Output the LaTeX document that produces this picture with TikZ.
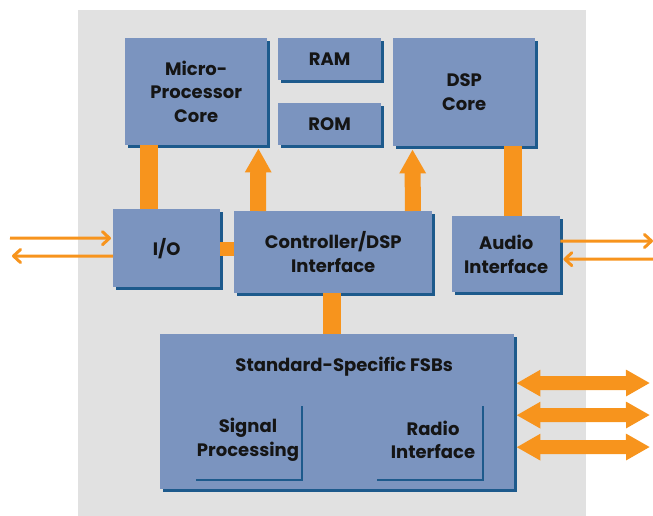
\documentclass[tikz,border=0pt]{standalone}
\usepackage{fontspec}
\setmainfont{Poppins}
\usetikzlibrary{arrows.meta,shadows}
\definecolor{bgrey}{HTML}{E1E1E1}
\definecolor{bfill}{HTML}{7B94BF}
\definecolor{bshadow}{HTML}{1D5A8C}
\definecolor{orng}{HTML}{F7941D}
\definecolor{txt}{HTML}{151515}
\begin{document}
\begin{tikzpicture}[x=1pt,y=-1pt,
  lbl/.style={align=center,inner sep=0pt,text=txt,font=\bfseries\fontsize{18}{23.5}\selectfont},
  block/.style={lbl,fill=bfill,anchor=north west,
    drop shadow={shadow xshift=2.5pt,shadow yshift=-2.5pt,fill=bshadow,opacity=1}},
  conn/.style={fill=orng},
  bigarrow/.style={draw=orng,line width=16pt,-{Triangle[length=24pt,width=25pt]}},
  dblarrow/.style={draw=orng,line width=14pt,{Triangle[length=24pt,width=25pt]}-{Triangle[length=24pt,width=25pt]}},
  thinarrow/.style={draw=orng,line width=3pt,-{Straight Barb[length=7pt,width=13pt,round]}},
  corner/.style={draw=bshadow,line width=2pt}]
\useasboundingbox (0,0) rectangle (653,516);
\fill[bgrey] (78,10) rectangle (586,516);

% blocks
\node[block,minimum width=142pt,minimum height=107pt] (mpc) at (125,38) {Micro-\\Processor\\Core};
\node[block,minimum width=103pt,minimum height=42pt] (ram) at (278,38) {RAM};
\node[block,minimum width=103pt,minimum height=42pt] (rom) at (278,103) {ROM};
\node[block,minimum width=142pt,minimum height=108pt] (dsp) at (393,38) {DSP\\Core};
\node[block,minimum width=107pt,minimum height=78pt] (io) at (113,209) {I/O};
\node[block,minimum width=198pt,minimum height=82pt] (ctrl) at (234,211) {Controller/DSP\\Interface};
\node[block,minimum width=108pt,minimum height=76pt] (audio) at (452,216) {Audio\\Interface};
\node[block,minimum width=354pt,minimum height=155pt] (fsb) at (160,334) {};

% FSB contents
\node[lbl] (fsbt) at ([xshift=7pt,yshift=-33pt]fsb.north) {Standard-Specific FSBs};
\node[lbl] (sp) at (248,440) {Signal\\Processing};
\node[lbl] (ri) at (433,440) {Radio\\Interface};
\draw[corner] (196,480) -- (302,480) -- (302,406);
\draw[corner] (377,480) -- (483,480) -- (483,406);

% connectors
\fill[conn] ([xshift=15pt]mpc.south west) rectangle ([xshift=45pt]io.north west);
\draw[bigarrow] ([xshift=24pt]ctrl.north west) -- ([xshift=-9pt,yshift=-3pt]mpc.south east);
\draw[bigarrow] ([xshift=-19.5pt]ctrl.north east) -- ([xshift=19.5pt,yshift=-3pt]dsp.south west);
\fill[conn] ([xshift=111pt]dsp.south west) rectangle ([xshift=70pt]audio.north west);
\fill[conn] ([yshift=6pt]io.east) rectangle ([yshift=-4pt]ctrl.west);
\fill[conn] ([xshift=89pt]ctrl.south west) rectangle ([xshift=181pt]fsb.north west);

% external arrows
\coordinate (ioin) at (10,238);
\coordinate (ioout) at (12,256);
\coordinate (aout) at (653,241);
\coordinate (ain) at (653,259);
\draw[thinarrow] (ioin) -- ([xshift=-2pt,yshift=10pt]io.west);
\draw[thinarrow] ([yshift=-8pt]io.west) -- (ioout);
\draw[thinarrow] ([yshift=13pt]audio.east) -- (aout);
\draw[thinarrow] (ain) -- ([xshift=3pt,yshift=-5pt]audio.east);

\coordinate (d1) at (650,383);
\coordinate (d2) at (650,415);
\coordinate (d3) at (650,447);
\draw[dblarrow] ([xshift=2pt,yshift=28.5pt]fsb.east) -- (d1);
\draw[dblarrow] ([xshift=2pt,yshift=-3.5pt]fsb.east) -- (d2);
\draw[dblarrow] ([xshift=2pt,yshift=-35.5pt]fsb.east) -- (d3);
\end{tikzpicture}
\end{document}
